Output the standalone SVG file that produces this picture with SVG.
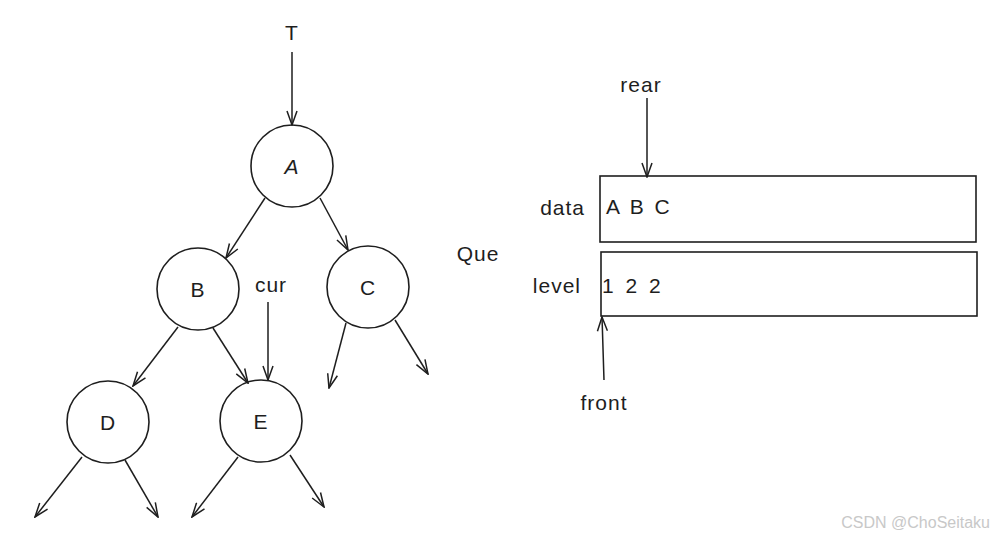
<svg xmlns="http://www.w3.org/2000/svg" width="996" height="542" viewBox="0 0 996 542">
<style>
.n{fill:none;stroke:#1e1e1e;stroke-width:1.6}
.e{fill:none;stroke:#1e1e1e;stroke-width:1.5;marker-end:url(#ah)}
.t{font-family:"Liberation Sans","DejaVu Sans",sans-serif;font-size:21px;fill:#1e1e1e;letter-spacing:1px}
.c{text-anchor:middle;dominant-baseline:central}
.wm{font-family:"Liberation Sans",sans-serif;font-size:16px;fill:#c8c8c8}
</style>
<defs>
<marker id="ah" viewBox="0 0 16 12" markerWidth="16" markerHeight="12" markerUnits="userSpaceOnUse" refX="15" refY="6" orient="auto">
<path d="M1,1 L15,6 L1,11" fill="none" stroke="#1e1e1e" stroke-width="1.5"/>
</marker>
</defs>
<rect width="996" height="542" fill="#fff"/>
<g id="connectors">
<path class="e" d="M292,52 L292,125"/>
<path class="e" d="M265,198 L226,258"/>
<path class="e" d="M320,198 L348,250"/>
<path class="e" d="M178,327 L133,386"/>
<path class="e" d="M213,328 L248,383"/>
<path class="e" d="M268,302 L268,380"/>
<path class="e" d="M346,323 L329,388"/>
<path class="e" d="M395,320 L428,374"/>
<path class="e" d="M82,457 L35,517"/>
<path class="e" d="M125,460 L158,517"/>
<path class="e" d="M238,457 L192,517"/>
<path class="e" d="M290,455 L324,507"/>
<path class="e" d="M647,98 L647,177"/>
<path class="e" d="M604,380 L602,317"/>
</g>
<g id="T"><text class="t c" x="292" y="32">T</text></g>
<g id="nodeA"><circle class="n" cx="292" cy="166" r="41"/><text class="t c" x="292" y="166" font-style="italic">A</text></g>
<g id="nodeB"><circle class="n" cx="198" cy="289" r="41"/><text class="t c" x="198" y="289">B</text></g>
<g id="nodeC"><circle class="n" cx="368" cy="287" r="41"/><text class="t c" x="368" y="287">C</text></g>
<g id="nodeD"><circle class="n" cx="108" cy="422" r="41"/><text class="t c" x="108" y="422">D</text></g>
<g id="nodeE"><circle class="n" cx="261" cy="421" r="41"/><text class="t c" x="261" y="421">E</text></g>
<g id="cur"><text class="t c" x="271" y="284">cur</text></g>
<g id="rear"><text class="t c" x="641" y="84">rear</text></g>
<g id="que"><text class="t c" x="478" y="253">Que</text></g>
<g id="data"><text class="t" x="585" y="207" text-anchor="end" dominant-baseline="central">data</text>
<rect class="n" x="600" y="176" width="376" height="66"/>
<text class="t" x="606" y="206" dominant-baseline="central" word-spacing="3">A B C</text></g>
<g id="level"><text class="t" x="581" y="285" text-anchor="end" dominant-baseline="central">level</text>
<rect class="n" x="601" y="252" width="376" height="64"/>
<text class="t" x="602" y="285" dominant-baseline="central" word-spacing="4">1 2 2</text></g>
<g id="front"><text class="t c" x="604" y="402">front</text></g>
<text class="wm" x="990" y="528" text-anchor="end">CSDN @ChoSeitaku</text>
</svg>
